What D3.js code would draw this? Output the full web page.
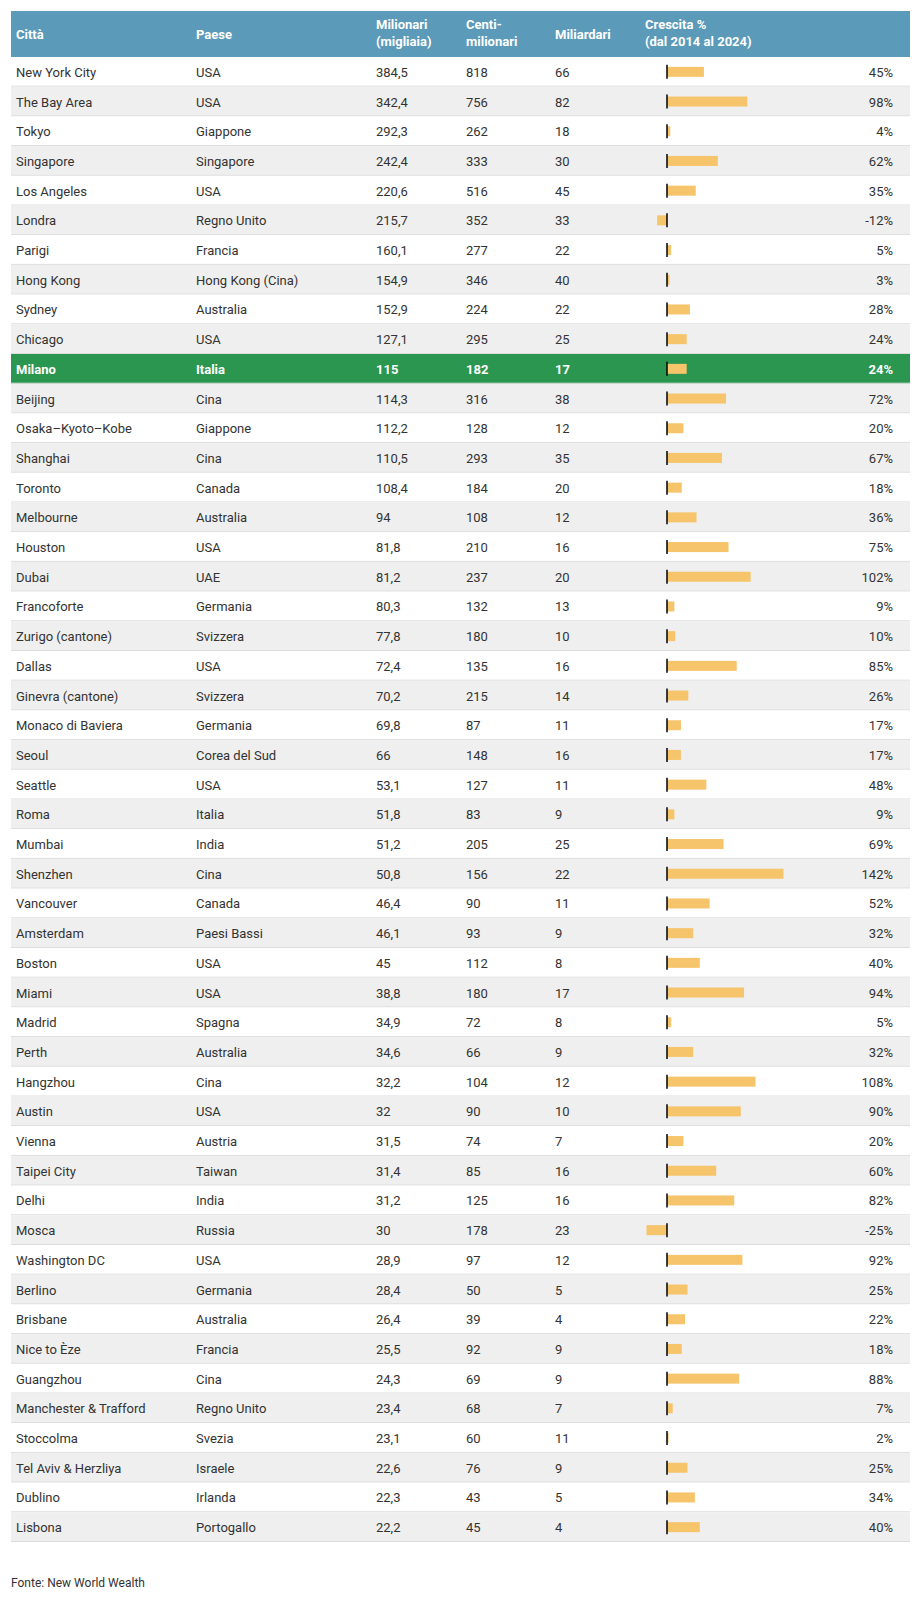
<!DOCTYPE html>
<html><head><meta charset="utf-8">
<script src="https://cdn.jsdelivr.net/npm/d3@7"></script>
<style>body{margin:0;background:#fff;font-family:Roboto,sans-serif}</style>
</head><body><svg id="c" width="920" height="1601"></svg>
<script>
const cities=["New York City","The Bay Area","Tokyo","Singapore","Los Angeles","Londra","Parigi","Hong Kong","Sydney","Chicago","Milano","Beijing","Osaka–Kyoto–Kobe","Shanghai","Toronto","Melbourne","Houston","Dubai","Francoforte","Zurigo (cantone)","Dallas","Ginevra (cantone)","Monaco di Baviera","Seoul","Seattle","Roma","Mumbai","Shenzhen","Vancouver","Amsterdam","Boston","Miami","Madrid","Perth","Hangzhou","Austin","Vienna","Taipei City","Delhi","Mosca","Washington DC","Berlino","Brisbane","Nice to Èze","Guangzhou","Manchester & Trafford","Stoccolma","Tel Aviv & Herzliya","Dublino","Lisbona"];
const countries=["USA","USA","Giappone","Singapore","USA","Regno Unito","Francia","Hong Kong (Cina)","Australia","USA","Italia","Cina","Giappone","Cina","Canada","Australia","USA","UAE","Germania","Svizzera","USA","Svizzera","Germania","Corea del Sud","USA","Italia","India","Cina","Canada","Paesi Bassi","USA","USA","Spagna","Australia","Cina","USA","Austria","Taiwan","India","Russia","USA","Germania","Australia","Francia","Cina","Regno Unito","Svezia","Israele","Irlanda","Portogallo"];
const millionaires=["384,5","342,4","292,3","242,4","220,6","215,7","160,1","154,9","152,9","127,1","115","114,3","112,2","110,5","108,4","94","81,8","81,2","80,3","77,8","72,4","70,2","69,8","66","53,1","51,8","51,2","50,8","46,4","46,1","45","38,8","34,9","34,6","32,2","32","31,5","31,4","31,2","30","28,9","28,4","26,4","25,5","24,3","23,4","23,1","22,6","22,3","22,2"];
const centimillionaires=[818,756,262,333,516,352,277,346,224,295,182,316,128,293,184,108,210,237,132,180,135,215,87,148,127,83,205,156,90,93,112,180,72,66,104,90,74,85,125,178,97,50,39,92,69,68,60,76,43,45];
const billionaires=[66,82,18,30,45,33,22,40,22,25,17,38,12,35,20,12,16,20,13,10,16,14,11,16,11,9,25,22,11,9,8,17,8,9,12,10,7,16,16,23,12,5,4,9,9,7,11,9,5,4];
const growth=[45,98,4,62,35,-12,5,3,28,24,24,72,20,67,18,36,75,102,9,10,85,26,17,17,48,9,69,142,52,32,40,94,5,32,108,90,20,60,82,-25,92,25,22,18,88,7,2,25,34,40];
const headers=[["Città"],["Paese"],["Milionari","(migliaia)"],["Centi-","milionari"],["Miliardari"],["Crescita %","(dal 2014 al 2024)"]];
const highlight="Milano";

const svg=d3.select("#c");
const L=11,R=910,T0=11,hH=46,rowH=29.7;
const colX=[16,196,376,466,555,645];
const y=d3.scaleBand().domain(d3.range(cities.length)).range([T0+hH,T0+hH+rowH*cities.length]);
const x=d3.scaleLinear().domain([0,100]).range([667,749]);

svg.append("rect").attr("x",L).attr("y",T0).attr("width",R-L).attr("height",hH).attr("fill","#5b9ab8");
headers.forEach((h,i)=>{
  const t=svg.append("text").attr("x",colX[i]).attr("fill","#fff").attr("font-weight","bold").attr("font-size",13);
  if(h.length===1) t.append("tspan").attr("x",colX[i]).attr("y",T0+hH/2+5).text(h[0]);
  else h.forEach((s,j)=>t.append("tspan").attr("x",colX[i]).attr("y",T0+18+j*17).text(s));
});

const rows=svg.selectAll("g.r").data(cities).join("g").attr("class","r")
  .attr("transform",(d,i)=>`translate(0,${y(i)})`);
rows.append("rect").attr("x",L).attr("width",R-L).attr("height",rowH)
  .attr("fill",(d,i)=>d===highlight?"#2a964f":(i%2?"#efefef":"#fff"));
rows.append("line").attr("x1",L).attr("x2",R).attr("y1",rowH-0.5).attr("y2",rowH-0.5).attr("stroke","#dcdcdc");
const cols=[cities,countries,millionaires,centimillionaires,billionaires];
rows.each(function(d,i){
  const g=d3.select(this), hl=d===highlight;
  cols.forEach((c,k)=>g.append("text").attr("x",colX[k]).attr("y",rowH/2+5).attr("font-size",13)
    .attr("fill",hl?"#fff":"#333").attr("font-weight",hl?"bold":"normal").text(c[i]));
  const v=growth[i];
  g.append("rect").attr("x",Math.min(x(0),x(v))).attr("y",rowH/2-5).attr("width",Math.abs(x(v)-x(0))).attr("height",10).attr("fill","#f6c46b");
  g.append("line").attr("x1",x(0)).attr("x2",x(0)).attr("y1",rowH/2-7).attr("y2",rowH/2+7).attr("stroke","#000").attr("stroke-width",1.5);
  g.append("text").attr("x",893).attr("text-anchor","end").attr("y",rowH/2+5).attr("font-size",13)
    .attr("fill",hl?"#fff":"#333").attr("font-weight",hl?"bold":"normal").text(v+"%");
});
svg.append("text").attr("x",11).attr("y",1587).attr("font-size",12).attr("fill","#333").text("Fonte: New World Wealth");
</script></body></html>
